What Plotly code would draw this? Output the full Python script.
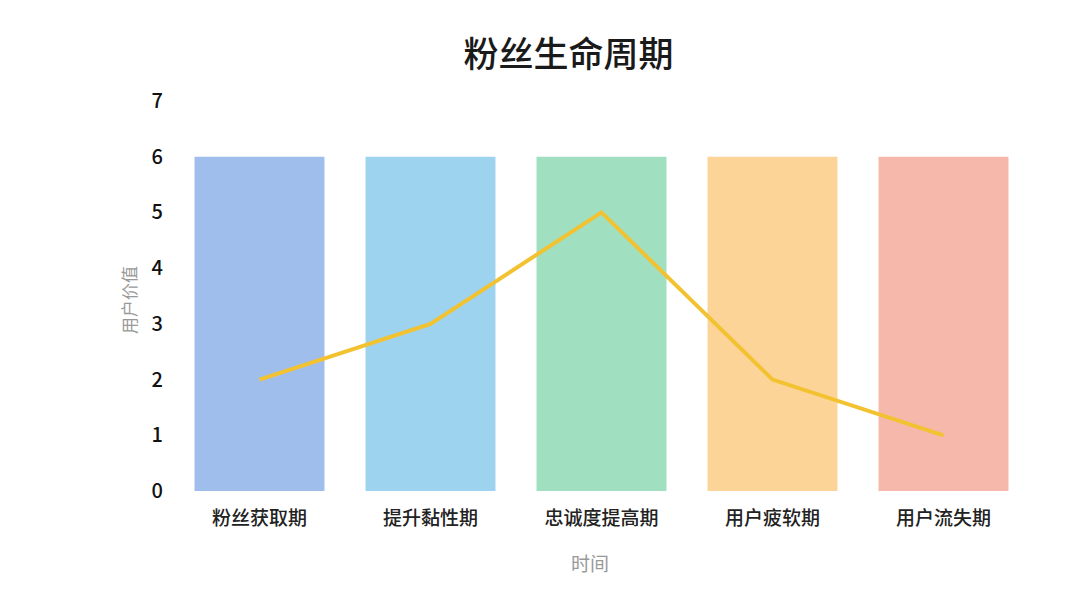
import plotly.graph_objects as go

categories = ["粉丝获取期", "提升黏性期", "忠诚度提高期", "用户疲软期", "用户流失期"]
bar_values = [6, 6, 6, 6, 6]
line_values = [2, 3, 5, 2, 1]
bar_colors = ["#A0BEEB", "#9DD3EE", "#A0DFC0", "#FCD498", "#F6B8AA"]
y_ticks = [0, 1, 2, 3, 4, 5, 6, 7]

FONT = "Noto Sans CJK SC"

fig = go.Figure()
fig.add_trace(go.Bar(x=categories, y=bar_values, marker=dict(color=bar_colors, line=dict(width=0)),
                     hoverinfo="skip", showlegend=False))
fig.add_trace(go.Scatter(x=categories, y=line_values, mode="lines",
                         line=dict(color="#F2C230", width=4), showlegend=False))

fig.update_layout(
    width=1080, height=590,
    margin=dict(l=166, r=59, t=93, b=107),
    paper_bgcolor="white", plot_bgcolor="white",
    bargap=0.24,
    font=dict(family=FONT, color="#222222"),
    title=dict(text="粉丝生命周期", x=0.519, xanchor="center", y=0.92, yanchor="middle",
               font=dict(family=FONT, size=35, color="#1a1a1a", weight=500)),
    xaxis=dict(showgrid=False, zeroline=False, showline=False, ticks="",
               ticklabelstandoff=14,
               tickfont=dict(family=FONT, size=19, color="#222222", weight=500)),
    yaxis=dict(range=[0, 7], tickvals=y_ticks, showgrid=False, zeroline=False, showline=False, ticks="",
               ticklabelstandoff=10,
               tickfont=dict(family=FONT, size=20, color="#111111", weight=500)),
    annotations=[
        dict(text="时间", xref="paper", yref="paper", x=0.487, y=0, yshift=-71,
             xanchor="center", yanchor="middle", showarrow=False,
             font=dict(family=FONT, size=19, color="#999999")),
        dict(text="用户价值", xref="paper", yref="paper", x=0, xshift=-46, y=0.5, yshift=-4,
             xanchor="center", yanchor="middle", showarrow=False, textangle=-90,
             font=dict(family=FONT, size=17, color="#999999")),
    ],
)

fig.write_html("out.html")
